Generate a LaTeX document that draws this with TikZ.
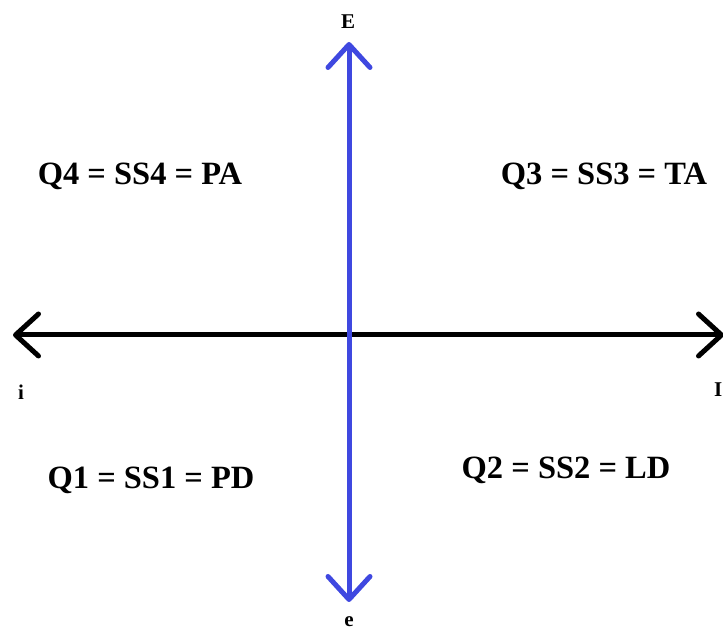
\documentclass[tikz,border=0pt]{standalone}
\usepackage{fontspec}
\setmainfont{Liberation Serif}
\usetikzlibrary{arrows.meta}
\definecolor{axisblue}{RGB}{63,72,224}
\tikzset{
  axis/.style={line width=5pt,
    {Straight Barb[length=23pt,width=42pt,round]}-{Straight Barb[length=23pt,width=42pt,round]}},
  quad/.style={font=\fontsize{32.5}{36}\selectfont\bfseries, text=black, anchor=center, inner sep=0pt},
  pole/.style={font=\fontsize{21}{24}\selectfont\bfseries, text=black, anchor=center, inner sep=0pt}
}

\begin{document}
\begin{tikzpicture}[x=1pt,y=1pt]
\useasboundingbox (0,0) rectangle (723,631);
\coordinate (west) at (13,296);
\coordinate (east) at (724,296);
\coordinate (north) at (349,589);
\coordinate (south) at (349,29);

\draw[axis,black] (west) -- (east);
\draw[axis,axisblue] (south) -- (north);

\node[pole] (lblE) at (348,609) {E};
\node[pole] (lble) at (349,9) {e};
\node[pole] (lbli) at (21,239) {i};
\node[pole, anchor=east] (lblI) at (722.5,241) {I};

\node[quad] (q4) at (140,455) {Q4 = SS4 = PA};
\node[quad] (q3) at (604,455) {Q3 = SS3 = TA};
\node[quad] (q1) at (151,151) {Q1 = SS1 = PD};
\node[quad] (q2) at (566,161) {Q2 = SS2 = LD};
\end{tikzpicture}
\end{document}
